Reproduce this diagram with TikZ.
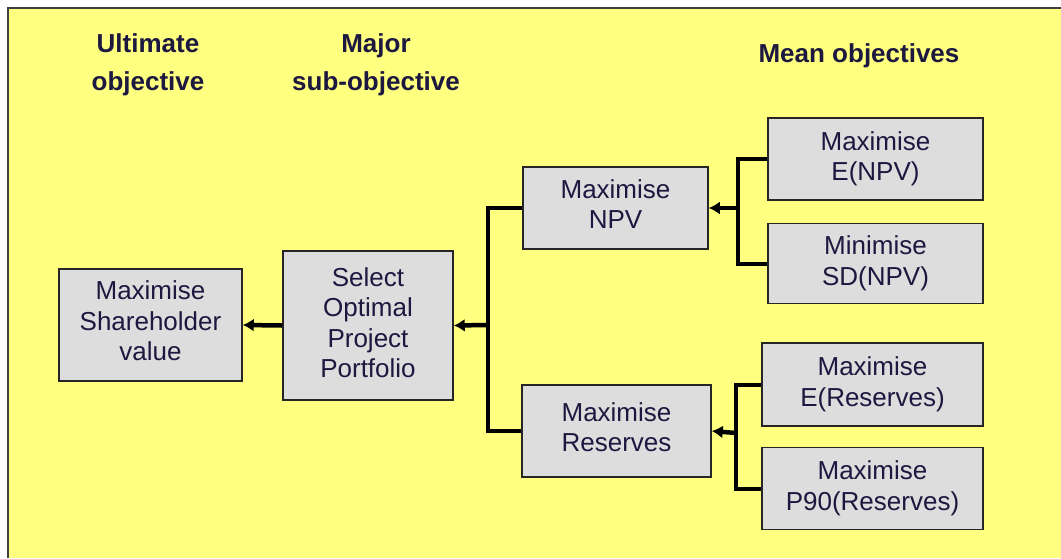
\documentclass[tikz,border=0pt]{standalone}
\usepackage{fontspec}
\setmainfont{Liberation Sans}
\usetikzlibrary{positioning,arrows.meta}
\definecolor{bgyellow}{RGB}{255,255,128}
\definecolor{boxgrey}{RGB}{221,221,221}
\definecolor{inkblue}{RGB}{28,24,64}

\begin{document}
\begin{tikzpicture}[x=1pt, y=-1pt]
	\tikzset{
		mynode/.style={rectangle, draw=black!85, fill=boxgrey, line width=1.5pt, inner sep=0pt, align=center, text=inkblue, font=\fontsize{26}{30.5}\selectfont},
		myhead/.style={align=center, text=inkblue, font=\fontsize{26}{38}\selectfont\bfseries},
		mybus/.style={line width=4pt},
		myarrow/.style={-{Latex[length=11pt,width=13pt]}, line width=4.5pt}
	}
	\useasboundingbox (0,0) rectangle (1061,558);
	\fill[bgyellow] (8,8) rectangle (1061,558);
	\draw[black!75, line width=2pt] (8,558) -- (8,8) -- (1061,8);

	\node[myhead] (ultimate) at (148,65) {Ultimate\\objective};
	\node[myhead] (major) at (376,65) {Major\\sub-objective};
	\node[myhead] (mean) at (859,56) {Mean objectives};

	\node[mynode, minimum width=183pt, minimum height=112pt] (share) at (150.5,325) {Maximise\\Shareholder\\value\rule[-8pt]{0pt}{8pt}};
	\node[mynode, minimum width=170pt, minimum height=149pt] (select) at (368,325.5) {Select\\Optimal\\Project\\Portfolio\rule[-6pt]{0pt}{6pt}};
	\node[mynode, minimum width=185pt, minimum height=82pt] (npv) at (615.5,208) {Maximise\\NPV\rule[-8pt]{0pt}{8pt}};
	\node[mynode, minimum width=189pt, minimum height=92pt] (reserves) at (616.5,431) {Maximise\\Reserves\rule[-8pt]{0pt}{8pt}};
	\node[mynode, minimum width=215pt, minimum height=82pt] (enpv) at (875.5,159) {Maximise\\E(NPV)\rule[-6pt]{0pt}{6pt}};
	\node[mynode, minimum width=215pt, minimum height=80pt, below=22pt of enpv] (sdnpv) {Minimise\\SD(NPV)\rule[-6pt]{0pt}{6pt}};
	\node[mynode, minimum width=221pt, minimum height=83pt] (eres) at (872.5,384.5) {Maximise\\E(Reserves)\rule[-6pt]{0pt}{6pt}};
	\node[mynode, minimum width=221pt, minimum height=82pt, below=20pt of eres] (p90res) {Maximise\\P90(Reserves)\rule[-6pt]{0pt}{6pt}};

	\coordinate (busA) at (488,325);
	\coordinate (busB) at (738,208);
	\coordinate (busC) at (736,433);

	\draw[mybus] (npv.west) -| (busA) |- (reserves.west);
	\draw[mybus] (enpv.west) -| (busB) |- (sdnpv.west);
	\draw[mybus] (eres.west) -| (busC) |- (p90res.west);
	\draw[myarrow] (busA) -- (select.east);
	\draw[myarrow] (busB) -- (npv.east);
	\draw[myarrow] (busC) -- (reserves.east);
	\draw[myarrow] (select.west) -- (share.east);
\end{tikzpicture}
\end{document}
